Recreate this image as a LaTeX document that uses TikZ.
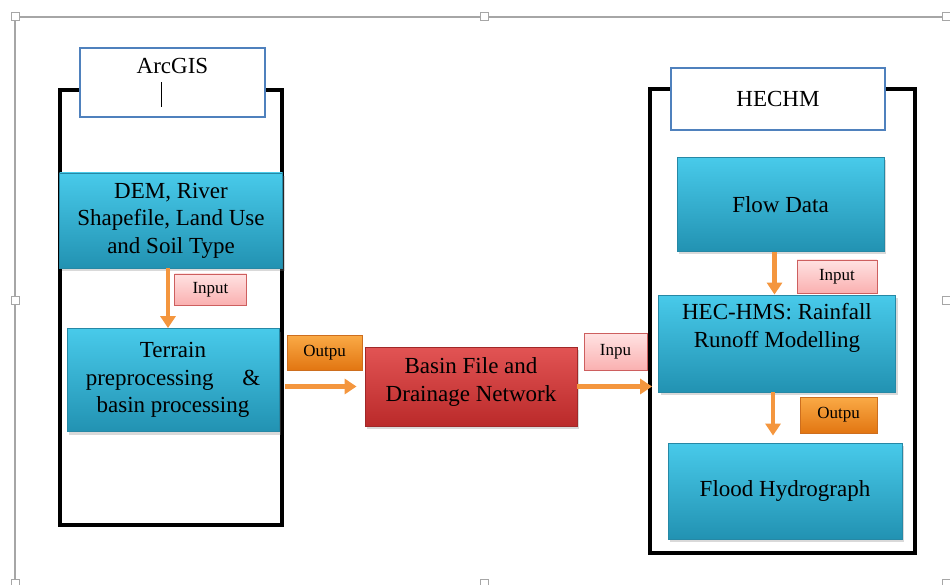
\documentclass[tikz,border=0pt]{standalone}
\usepackage{fontspec}
\setmainfont{Liberation Serif}
\usepackage{xcolor}
\usepackage{tikz}
\usetikzlibrary{arrows.meta,shadows}

\definecolor{tealtop}{RGB}{72,202,234}
\definecolor{tealbot}{RGB}{34,146,178}
\definecolor{tealedge}{RGB}{38,136,165}
\definecolor{redtop}{RGB}{226,84,84}
\definecolor{redbot}{RGB}{186,42,42}
\definecolor{rededge}{RGB}{160,40,40}
\definecolor{pinktop}{RGB}{255,226,226}
\definecolor{pinkbot}{RGB}{250,176,176}
\definecolor{pinkedge}{RGB}{205,95,95}
\definecolor{orgtop}{RGB}{250,170,70}
\definecolor{orgbot}{RGB}{226,118,18}
\definecolor{orgedge}{RGB}{205,110,30}
\definecolor{arrorange}{RGB}{244,150,62}
\definecolor{titleblue}{RGB}{79,129,189}

\tikzset{
  bigtext/.style={font=\fontsize{23}{27.5}\selectfont, align=center, inner sep=0pt, text=black},
  procbox/.style={bigtext, draw=tealedge, line width=0.8pt, top color=tealtop, bottom color=tealbot,
    drop shadow={shadow xshift=2pt, shadow yshift=-3pt, opacity=0.3}},
  databox/.style={bigtext, draw=rededge, line width=0.8pt, top color=redtop, bottom color=redbot,
    drop shadow={shadow xshift=2pt, shadow yshift=-3pt, opacity=0.3}},
  titlebox/.style={bigtext, draw=titleblue, line width=2.5pt, fill=white},
  inlabel/.style={font=\fontsize{17}{19}\selectfont, inner sep=0pt, draw=pinkedge, line width=0.8pt,
    top color=pinktop, bottom color=pinkbot},
  outlabel/.style={font=\fontsize{17}{19}\selectfont, inner sep=0pt, draw=orgedge, line width=0.8pt,
    top color=orgtop, bottom color=orgbot},
  frame/.style={draw=black, line width=3.5pt},
  feed/.style={draw=arrorange, line width=4.5pt, -{Triangle[width=15pt,length=12pt]}},
  handle/.style={draw=gray!70, fill=white, line width=1pt, minimum size=8pt, inner sep=0pt}
}

\begin{document}
\begin{tikzpicture}[x=1pt,y=-1pt]
\useasboundingbox (0,0) rectangle (950,585);

% selection frame
\draw[gray!70, line width=1.2pt] (946,17) -- (15,17) -- (15,582);
\foreach \i/\p in {1/{15,17}, 2/{484,17}, 3/{946,17}, 4/{15,300}, 5/{946,300}, 6/{15,583}, 7/{484,583}, 8/{946,583}}
  \node[handle] (h\i) at (\p) {};

% containers
\draw[frame] (60,90) rectangle (282,525);
\draw[frame] (650,89) rectangle (915,553);

\node[titlebox, minimum width=185pt, minimum height=69pt] (arcgis) at (172.5,82.5)
  {ArcGIS\\\hspace*{-22pt}\rule[-6pt]{1pt}{25pt}};
\node[titlebox, minimum width=214pt, minimum height=62pt] (hechm) at (778,99) {HECHM};

\node[procbox, minimum width=223pt, minimum height=95pt] (dem) at (171,220.5)
  {DEM, River\\Shapefile, Land Use\\and Soil Type};
\node[inlabel, minimum width=72pt, minimum height=31pt] (inp1) at (210.5,289.5) {Input};
\node[procbox, minimum width=212pt, minimum height=103pt] (terrain) at (173,380)
  {Terrain\\preprocessing\quad\ \&\\basin processing};
\node[outlabel, minimum width=75pt, minimum height=35pt] (out1) at (324.5,352.5) {Outpu};
\node[databox, minimum width=212pt, minimum height=79pt, text depth=14pt] (basin) at (471,386.5)
  {Basin File and\\Drainage Network};
\node[inlabel, minimum width=63pt, minimum height=37pt] (inp2) at (615.5,352) {Inpu};

\node[procbox, minimum width=207pt, minimum height=94pt] (flow) at (780.5,204.5) {Flow Data};
\node[inlabel, minimum width=80pt, minimum height=33pt] (inp3) at (837,276.5) {Input};
\node[procbox, minimum width=237pt, minimum height=97pt] (hms) at (777,343.5)
  {HEC-HMS: Rainfall\\Runoff Modelling\\\strut};
\node[outlabel, minimum width=77pt, minimum height=36pt] (out2) at (838.5,415) {Outpu};
\node[procbox, minimum width=234pt, minimum height=96pt] (flood) at (785,491) {Flood Hydrograph};

\draw[feed] ([xshift=-3pt]dem.south) -- ([xshift=-3pt]dem.south |- terrain.north);
\draw[feed, shorten <=6pt, shorten >=8pt] (terrain.east |- basin.west) -- (basin.west);
\draw[feed, shorten >=6pt] (basin.east) -- (basin.east -| hms.west);
\draw[feed] ([xshift=-6pt]flow.south) -- ([xshift=-6pt]flow.south |- hms.north);
\draw[feed, shorten >=7pt] ([xshift=-4pt]hms.south) -- ([xshift=-4pt]hms.south |- flood.north);
\end{tikzpicture}
\end{document}
